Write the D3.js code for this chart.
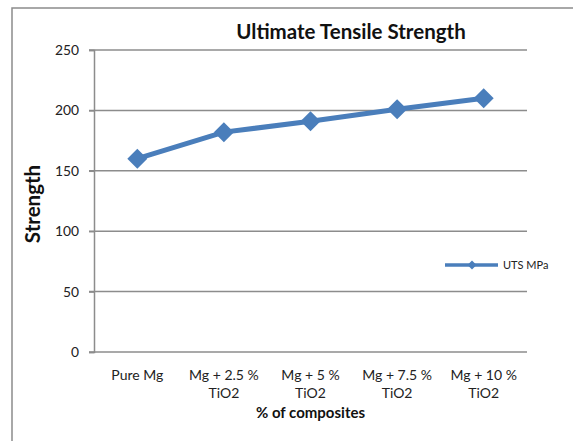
<!DOCTYPE html>
<html>
<head>
<meta charset="utf-8">
<script src="https://cdn.jsdelivr.net/npm/d3@7"></script>
<style>
  html, body { margin: 0; padding: 0; background: #fff; }
  svg { display: block; }
</style>
</head>
<body>
<svg id="chart" width="573" height="441"></svg>
<script>
// Ultimate tensile strength of Mg / TiO2 composites
const categories = [
  ["Pure Mg"],
  ["Mg + 2.5 %", "TiO2"],
  ["Mg + 5 %", "TiO2"],
  ["Mg + 7.5 %", "TiO2"],
  ["Mg + 10 %", "TiO2"]
];
const utsValues = [160, 182, 191, 201, 210];
const yTicks = [0, 50, 100, 150, 200, 250];
const seriesName = "UTS MPa";

const font = "Lato, 'Open Sans', sans-serif";
const gridColor = "#8c8c8c";
const lineColor = "#4a7ebb";

const svg = d3.select("#chart");
const margin = { left: 94, right: 46, top: 50, bottom: 89 };
const W = 573, H = 441;

// outer frame (left and top edges only visible)
svg.append("path")
  .attr("d", `M12,441 L12,8 L573,8`)
  .attr("fill", "none")
  .attr("stroke", gridColor)
  .attr("stroke-width", 1.5);

const x = d3.scaleBand()
  .domain(d3.range(categories.length))
  .range([margin.left, W - margin.right])
  .padding(0);

const y = d3.scaleLinear()
  .domain([0, 250])
  .range([H - margin.bottom, margin.top]);

// horizontal gridlines
svg.append("g")
  .selectAll("line")
  .data(yTicks)
  .join("line")
  .attr("x1", margin.left - 5)
  .attr("x2", W - margin.right)
  .attr("y1", d => y(d))
  .attr("y2", d => y(d))
  .attr("stroke", gridColor)
  .attr("stroke-width", 1.5);

// y axis
const yAxis = svg.append("g")
  .attr("transform", `translate(${margin.left},0)`)
  .call(d3.axisLeft(y).tickValues(yTicks).tickSize(5).tickPadding(10));
yAxis.select(".domain").attr("stroke", gridColor).attr("stroke-width", 1.5);
yAxis.selectAll(".tick line").attr("stroke", gridColor).attr("stroke-width", 1.5);
yAxis.selectAll(".tick text")
  .attr("font-family", font)
  .attr("font-size", 13.8)
  .attr("fill", "#222");

// x axis category labels (two lines)
const xl = svg.append("g");
categories.forEach((lines, i) => {
  const t = xl.append("text")
    .attr("x", x(i) + x.bandwidth() / 2)
    .attr("y", 380)
    .attr("text-anchor", "middle")
    .attr("font-family", font)
    .attr("font-size", 14)
    .attr("fill", "#222");
  lines.forEach((s, j) => {
    t.append("tspan")
      .attr("x", x(i) + x.bandwidth() / 2)
      .attr("dy", j === 0 ? 0 : 18)
      .text(s);
  });
});

// axis titles
svg.append("text")
  .attr("x", (margin.left + W - margin.right) / 2)
  .attr("y", 418)
  .attr("text-anchor", "middle")
  .attr("font-family", font)
  .attr("font-weight", "bold")
  .attr("font-size", 15)
  .attr("fill", "#111")
  .text("% of  composites");

svg.append("text")
  .attr("transform", `translate(40,204) rotate(-90)`)
  .attr("text-anchor", "middle")
  .attr("font-family", font)
  .attr("font-weight", "bold")
  .attr("font-size", 20.5)
  .attr("fill", "#111")
  .text("Strength");

// chart title
svg.append("text")
  .attr("x", 351)
  .attr("y", 39)
  .attr("text-anchor", "middle")
  .attr("font-family", font)
  .attr("font-weight", "bold")
  .attr("font-size", 20.5)
  .attr("fill", "#111")
  .text("Ultimate Tensile Strength");

// series line and markers
const cx = i => x(i) + x.bandwidth() / 2;
const line = d3.line().x((d, i) => cx(i)).y(d => y(d));
svg.append("path")
  .datum(utsValues)
  .attr("d", line)
  .attr("fill", "none")
  .attr("stroke", lineColor)
  .attr("stroke-width", 5)
  .attr("stroke-linejoin", "round");

svg.append("g")
  .selectAll("path")
  .data(utsValues)
  .join("path")
  .attr("transform", (d, i) => `translate(${cx(i)},${y(d)}) rotate(45)`)
  .attr("d", d3.symbol().type(d3.symbolSquare).size(200))
  .attr("fill", lineColor);

// legend
const lg = svg.append("g").attr("transform", "translate(445,265)");
lg.append("line")
  .attr("x1", 0).attr("x2", 53)
  .attr("y1", 0).attr("y2", 0)
  .attr("stroke", lineColor)
  .attr("stroke-width", 3.5);
lg.append("path")
  .attr("transform", "translate(27,0) rotate(45)")
  .attr("d", d3.symbol().type(d3.symbolSquare).size(40))
  .attr("fill", lineColor);
lg.append("text")
  .attr("x", 58)
  .attr("y", 4)
  .attr("font-family", font)
  .attr("font-size", 11)
  .attr("fill", "#222")
  .text(seriesName);
</script>
</body>
</html>
